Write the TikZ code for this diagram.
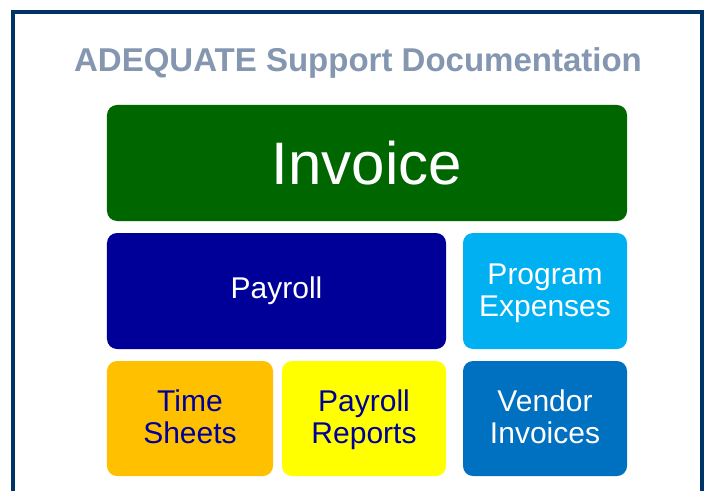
\documentclass[tikz,border=0pt]{standalone}
\usepackage{fontspec}
\setmainfont{Liberation Sans}
\usetikzlibrary{positioning}

\definecolor{framecol}{RGB}{0,51,102}
\definecolor{titlecol}{RGB}{132,150,176}
\definecolor{invgreen}{RGB}{0,102,0}
\definecolor{paynavy}{RGB}{0,0,153}
\definecolor{progcyan}{RGB}{0,176,240}
\definecolor{timeorange}{RGB}{255,192,0}
\definecolor{repyellow}{RGB}{255,255,0}
\definecolor{vendblue}{RGB}{0,112,192}

\newcommand{\twolines}[2]{#1\rule{0pt}{28bp}\\#2\strut}

\begin{document}
\begin{tikzpicture}[x=1bp,y=-1bp,
    block/.style={rounded corners=10bp,inner sep=0pt,outer sep=0pt,
                  align=center,text=white,
                  font=\fontsize{30bp}{32bp}\selectfont},
    smallblock/.style={block,minimum width=164bp,minimum height=115bp}]
  \clip (0,0) rectangle (707,491);
  \fill[white] (0,0) rectangle (707,491);

  % frame, open at the bottom
  \draw[framecol,line width=4bp] (13,500) -- (13,12) -- (702,12) -- (702,500);

  \node[text=titlecol,font=\bfseries\fontsize{33bp}{35bp}\selectfont] (title) at (358,63)
    {ADEQUATE Support Documentation};

  \node[block,fill=invgreen,minimum width=520bp,minimum height=116bp,
        font=\fontsize{60bp}{62bp}\selectfont] (invoice) at (367,163) {Invoice};

  \node[block,fill=paynavy,minimum width=339bp,minimum height=116bp,
        below=12bp of invoice.south west,anchor=north west] (payroll) {Payroll};
  \node[block,fill=progcyan,minimum width=164bp,minimum height=116bp,
        below=12bp of invoice.south east,anchor=north east] (program) {\twolines{Program}{Expenses}};

  \node[smallblock,fill=timeorange,text=paynavy,minimum width=166bp,
        below=12bp of payroll.south west,anchor=north west] (timesheets) {\twolines{Time}{Sheets}};
  \node[smallblock,fill=repyellow,text=paynavy,
        below=12bp of payroll.south east,anchor=north east] (reports) {\twolines{Payroll}{Reports}};
  \node[smallblock,fill=vendblue,
        below=12bp of program.south,anchor=north] (vendor) {\twolines{Vendor}{Invoices}};
\end{tikzpicture}
\end{document}
